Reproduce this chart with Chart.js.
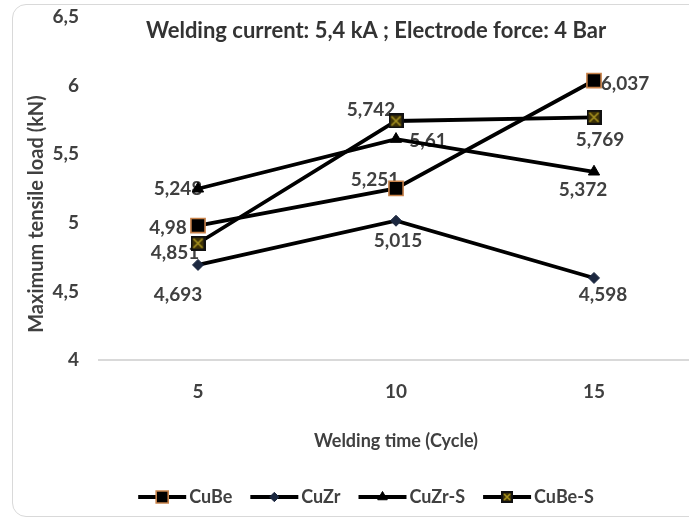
<!DOCTYPE html>
<html>
<head>
<meta charset="utf-8">
<script src="https://cdn.jsdelivr.net/npm/chart.js@4.4.0/dist/chart.umd.min.js"></script>
<style>
  html, body { margin: 0; padding: 0; background: #fff; overflow: hidden; }
  #frame { position: absolute; left: 12px; top: 4px; width: 730px; height: 511px; border: 1px solid #d9d9d9; border-radius: 14px; }
  canvas { position: absolute; left: 0; top: 0; }
</style>
</head>
<body>
<div id="frame"></div>
<canvas id="chart" width="720" height="522"></canvas>
<script>
// Dados
const cycles = ["5", "10", "15"];
const cuBe = [4.98, 5.251, 6.037];
const cuZr = [4.693, 5.015, 4.598];
const cuZrS = [5.248, 5.61, 5.372];
const cuBeS = [4.851, 5.742, 5.769];
const yMin = 4, yMax = 6.5, yStep = 0.5;

const chartTitle = "Welding current: 5,4 kA ; Electrode force: 4 Bar";
const yTitle = "Maximum tensile load (kN)";
const xTitle = "Welding time (Cycle)";

// deslocamento (px) de cada rótulo de valor em relação ao ponto
const labelShift = [
  [[-30, 2], [-21, -8], [31, 3]],
  [[-20, 30], [2, 20], [9, 17]],
  [[-20, 0], [32, 2], [-11, 18]],
  [[-23, 10], [-25, -11], [6, 23]]
];

const textColor = "#404040";
const fontFamily = "Lato, 'Open Sans', sans-serif";
const comma = v => String(v).replace(".", ",");

// marcador quadrado com X para CuBe-S
function crossSquare(n) {
  const c = document.createElement("canvas");
  c.width = n; c.height = n;
  const g = c.getContext("2d");
  g.fillStyle = "#111";
  g.fillRect(0, 0, n, n);
  g.fillStyle = "#3d3106";
  g.fillRect(2, 2, n - 4, n - 4);
  g.strokeStyle = "#a89420";
  g.lineWidth = 1.6;
  g.beginPath();
  g.moveTo(3, 3); g.lineTo(n - 3, n - 3);
  g.moveTo(n - 3, 3); g.lineTo(3, n - 3);
  g.stroke();
  return c;
}

// rótulos de valor (desenhados antes das linhas, como no original)
const valueLabels = {
  id: "valueLabels",
  beforeDatasetsDraw(chart) {
    const ctx = chart.ctx;
    ctx.save();
    ctx.font = "bold 19px " + fontFamily;
    ctx.fillStyle = textColor;
    ctx.textAlign = "center";
    ctx.textBaseline = "middle";
    chart.data.datasets.forEach((ds, i) => {
      chart.getDatasetMeta(i).data.forEach((pt, j) => {
        const s = labelShift[i][j];
        ctx.fillText(comma(ds.data[j]), pt.x + s[0], pt.y + s[1]);
      });
    });
    ctx.restore();
  }
};

// título do gráfico e título do eixo Y
const titles = {
  id: "titles",
  afterDraw(chart) {
    const ctx = chart.ctx;
    ctx.save();
    ctx.font = "bold 22px " + fontFamily;
    ctx.fillStyle = "#333";
    ctx.textAlign = "center";
    ctx.textBaseline = "middle";
    ctx.fillText(chartTitle, 376, 31);
    ctx.font = "bold 20px " + fontFamily;
    ctx.fillStyle = textColor;
    ctx.translate(37, 214);
    ctx.rotate(-Math.PI / 2);
    ctx.fillText(yTitle, 0, 0);
    ctx.restore();
  }
};

// legenda com amostra de linha + marcador
const lineLegend = {
  id: "lineLegend",
  afterDraw(chart) {
    const ctx = chart.ctx;
    ctx.save();
    ctx.font = "bold 18px " + fontFamily;
    const sample = 48, gap = 3, spacing = 18;
    const items = chart.data.datasets.map(ds => ({ ds, w: sample + gap + ctx.measureText(ds.label).width }));
    const total = items.reduce((s, it) => s + it.w, 0) + spacing * (items.length - 1);
    let x = 366 - total / 2;
    const y = 497;
    items.forEach(({ ds, w }) => {
      ctx.strokeStyle = ds.borderColor;
      ctx.lineWidth = ds.borderWidth;
      ctx.beginPath();
      ctx.moveTo(x, y);
      ctx.lineTo(x + sample, y);
      ctx.stroke();
      ctx.fillStyle = ds.pointBackgroundColor;
      ctx.strokeStyle = ds.pointBorderColor;
      ctx.lineWidth = ds.pointBorderWidth;
      Chart.helpers.drawPoint(ctx, { pointStyle: ds.legendStyle || ds.pointStyle, radius: ds.pointRadius * 0.85, borderWidth: ds.pointBorderWidth }, x + sample / 2, y);
      ctx.fillStyle = textColor;
      ctx.textAlign = "left";
      ctx.textBaseline = "middle";
      ctx.fillText(ds.label, x + sample + gap, y);
      x += w + spacing;
    });
    ctx.restore();
  }
};

const ctx = document.getElementById("chart").getContext("2d");

new Chart(ctx, {
  type: "line",
  data: {
    labels: cycles,
    datasets: [
      { label: "CuBe", data: cuBe, borderColor: "#000", borderWidth: 3.8,
        pointStyle: "rect", pointRadius: 10, pointBackgroundColor: "#000", pointBorderColor: "#c8824a", pointBorderWidth: 1.6 },
      { label: "CuZr", data: cuZr, borderColor: "#000", borderWidth: 3.8,
        pointStyle: "rectRot", pointRadius: 5.5, pointBackgroundColor: "#1c2840", pointBorderColor: "#1c2840", pointBorderWidth: 1 },
      { label: "CuZr-S", data: cuZrS, borderColor: "#000", borderWidth: 3.8,
        pointStyle: "triangle", pointRadius: 6.5, pointBackgroundColor: "#000", pointBorderColor: "#000", pointBorderWidth: 1 },
      { label: "CuBe-S", data: cuBeS, borderColor: "#000", borderWidth: 3.8,
        pointStyle: crossSquare(15), legendStyle: crossSquare(12), pointRadius: 7.5, pointBackgroundColor: "#000", pointBorderColor: "#000", pointBorderWidth: 1 }
    ]
  },
  options: {
    responsive: false,
    animation: false,
    devicePixelRatio: 1,
    layout: { autoPadding: false, padding: { left: 0, top: 17, right: 27, bottom: 62 } },
    plugins: {
      legend: { display: false },
      tooltip: { enabled: false },
      title: { display: false }
    },
    scales: {
      x: {
        type: "category",
        offset: true,
        grid: { display: false, drawTicks: false },
        border: { display: true, color: "#d9d9d9", width: 2 },
        ticks: { color: textColor, font: { family: fontFamily, size: 19, weight: "bold" }, padding: 20 },
        title: { display: true, text: xTitle, color: textColor, font: { family: fontFamily, size: 18, weight: "bold" }, padding: { top: 0, bottom: 8 } },
        afterFit: s => { s.height = 100; s.paddingLeft = 0; s.paddingRight = 0; }
      },
      y: {
        min: yMin,
        max: yMax,
        grid: { display: false, drawTicks: false },
        border: { display: false },
        ticks: { stepSize: yStep, color: textColor, font: { family: fontFamily, size: 19, weight: "bold" }, padding: 20, callback: v => comma(v) },
        afterFit: s => { s.width = 99; s.paddingTop = 0; s.paddingBottom = 0; }
      }
    }
  },
  plugins: [valueLabels, titles, lineLegend]
});
</script>
</body>
</html>
